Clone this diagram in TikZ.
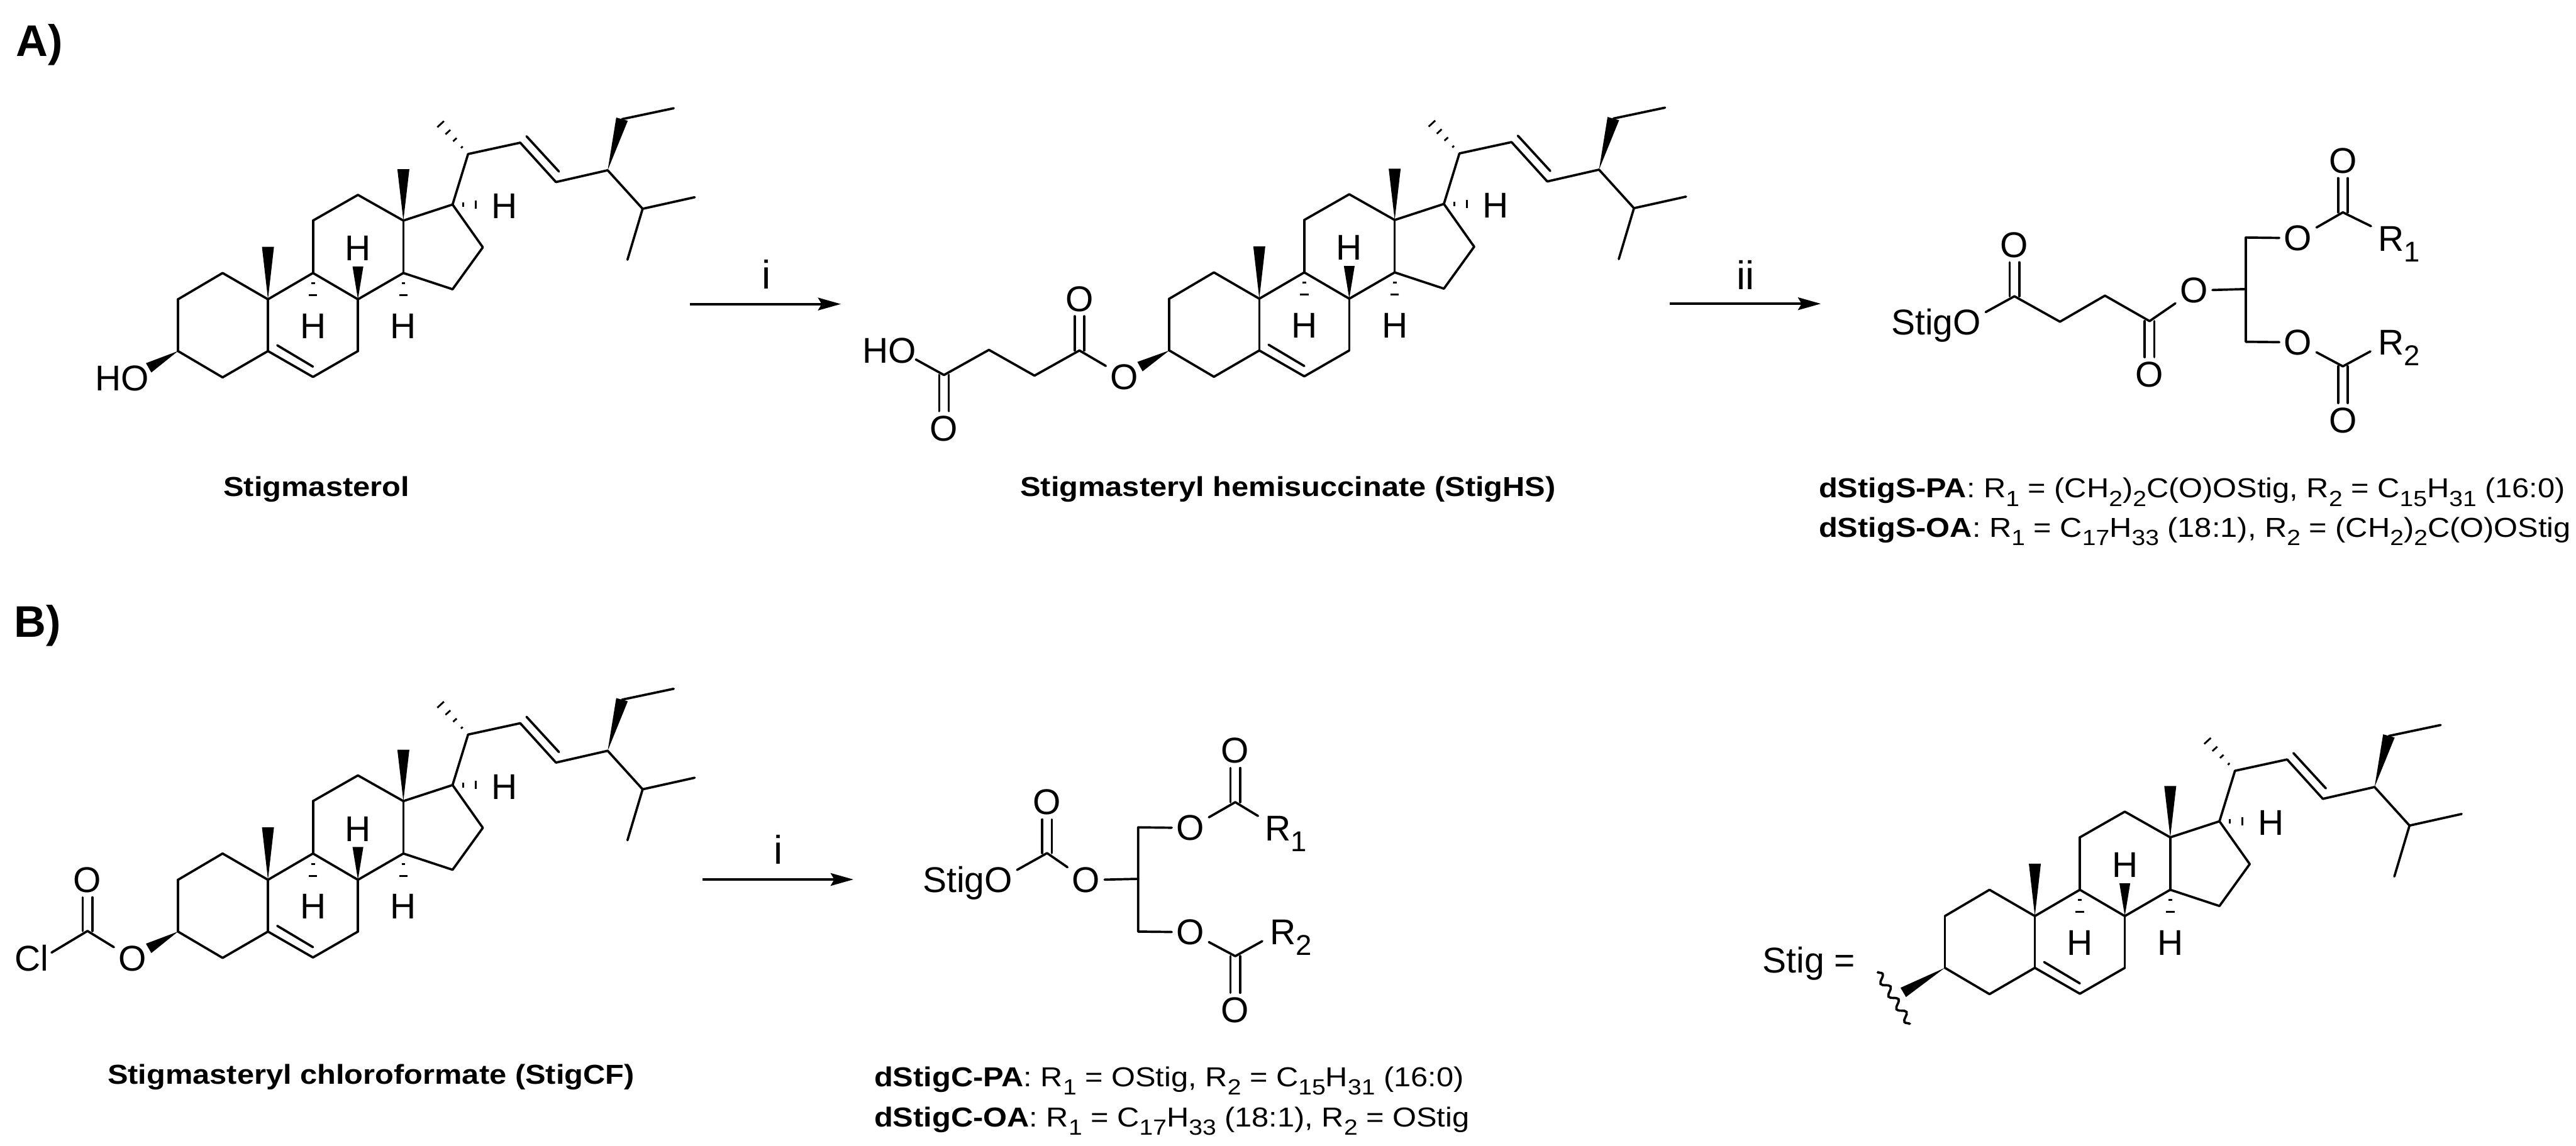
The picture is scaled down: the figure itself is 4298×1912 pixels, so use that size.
\documentclass[tikz,border=0pt]{standalone}
\usepackage{fontspec}
\usepackage{graphicx}
\setmainfont{Liberation Sans}
\usetikzlibrary{calc,arrows.meta,decorations.pathmorphing}

\newcommand{\subn}[1]{\raisebox{-.3em}{\scalebox{.8}{#1}}}
\newcommand{\widen}[1]{\scalebox{1.12}[1]{#1}}

\tikzset{
    bond/.style={line width=1.1pt, line cap=round, line join=round},
    hashline/.style={line width=.85pt},
    atomlabel/.style={font=\fontsize{17}{20}\selectfont, inner sep=.07cm},
    hlabel/.style={font=\fontsize{17}{20}\selectfont, inner sep=0pt},
    arrowlabel/.style={font=\fontsize{19}{22}\selectfont, inner sep=0pt, anchor=base},
    textlabel/.style={font=\fontsize{17}{20}\selectfont, inner sep=0pt, anchor=base west},
    captionlabel/.style={font=\fontsize{13}{16}\selectfont, inner sep=0pt, anchor=base west},
    namelabel/.style={font=\fontsize{13}{16}\selectfont\bfseries, inner sep=0pt, anchor=base},
    panellabel/.style={font=\fontsize{21}{25}\selectfont\bfseries, inner sep=0pt, anchor=base west},
    rxnarrow/.style={line width=1.2pt, -{Stealth[length=.38cm,width=.21cm,inset=.06cm]}}
}

\newcommand{\wedgebond}[3]{
    \fill ($(#2)!#3cm!90:(#1)$) -- ($(#2)!#3cm!-90:(#1)$) -- (#1) -- cycle;
}
\newcommand{\hashbond}[3]{
    \foreach \t/\w in {#3}
    \draw[hashline] ($(#1)!\t!(#2)!\w cm!90:(#2)$) -- ($(#1)!\t!(#2)!\w cm!-90:(#2)$);
}
\newcommand{\dblbond}[2]{
    \draw[bond] ($(#1)!.08cm!90:(#2)$) -- ($(#2)!.08cm!-90:(#1)$);
    \draw[bond] ($(#1)!.08cm!-90:(#2)$) -- ($(#2)!.08cm!90:(#1)$);
}

% ring system and side chain, origin at the carbon carrying the oxygen
\newcommand{\stigcore}{
    \foreach \n/\px/\py in {c3/0/0, c4/74.4/-43.9, c5/150.1/0, c6/225.2/-43.2, c7/300.2/0, c8/300.2/86.4, c9/225.2/130.3, c10/150.1/86.4, c1/74.4/130.3, c2/0/86.4, c11/225.2/217.8, c12/300.2/260.7, c13/376/217.8, c14/376/130.3, c15/458.1/103.2, c16/508.6/173.2, c17/458.1/244.6, c20/484/328.9, c22/571/347.8, c23/630.6/282.1, c24/716.9/301.8, c28/740.8/387.1, c29/827.1/405.3, c25/775.2/237.5, c26/862.1/256.8, c27/749.9/152.5, me21/426/392, me19/150.1/173.9, me18/376/303.5, h8e/300.2/141.1, h9e/225.2/73, h14e/376/73, h17e/518.4/244.6, dba/165.6/9.6, dbb/225.2/-26, dbc/581.5/358.5, dbd/635.6/299.6}
        \coordinate (\n) at (\px,\py);

    \foreach \A/\B in {c3/c4, c4/c5, c5/c6, c6/c7, c7/c8, c8/c9, c9/c10, c10/c5, c10/c1, c1/c2, c2/c3, c9/c11, c11/c12, c12/c13, c13/c14, c14/c8, c14/c15, c15/c16, c16/c17, c17/c13, c17/c20, c20/c22, c22/c23, c23/c24, c24/c25, c25/c26, c25/c27, c28/c29, dba/dbb, dbc/dbd}
        \draw[bond] (\A) -- (\B);

    \wedgebond{c10}{me19}{.1}
    \wedgebond{c13}{me18}{.1}
    \wedgebond{c8}{h8e}{.09}
    \wedgebond{c24}{c28}{.1}
    \hashbond{c20}{me21}{.18/.02, .38/.04, .58/.055, .79/.075, 1/.1}
    \hashbond{c9}{h9e}{.3/.03, .65/.07, 1/.1}
    \hashbond{c14}{h14e}{.3/.03, .65/.07, 1/.1}
    \hashbond{c17}{h17e}{.29/.04, .64/.07, 1/.1}

    \node[hlabel] (h8) at (300.2,171.4) {H};
    \node[hlabel] (h9) at (225.2,41.8) {H};
    \node[hlabel] (h14) at (376,41.8) {H};
    \node[hlabel] (h17) at (544.4,241.8) {H};
}

% the two acyl arms on the glycerol, origin at the central carbon
\newcommand{\glyarms}[2]{
    \coordinate (ch) at (0,0);
    \coordinate (chu) at (0,-86);
    \coordinate (chd) at (0,88);
    \coordinate (cu) at (162,-128);
    \coordinate (cd) at (162,129);
    \coordinate (ru) at (#1-11,-105);
    \coordinate (rd) at (#2-12,104);
    \node[atomlabel] (ou) at (87,-85) {O};
    \node[atomlabel] (od) at (87,89) {O};
    \node[atomlabel] (ocu) at (162,-214) {O};
    \node[atomlabel] (ocd) at (162,219) {O};
    \node[textlabel] (rup) at (#1,-63.5) {R\subn{1}};
    \node[textlabel] (rdn) at (#2,110) {R\subn{2}};
    \draw[bond] (ou) -- (chu) -- (chd) -- (od);
    \draw[bond] (ou) -- (cu) -- (ru);
    \draw[bond] (od) -- (cd) -- (rd);
    \dblbond{cu}{ocu.south}
    \dblbond{cd}{ocd.north}
}

\begin{document}
\begin{tikzpicture}[x=.01cm, y=-.01cm]

    \useasboundingbox (0,0) rectangle (4298,1912);

    \node[panellabel] (panelA) at (26,94) {A)};
    \node[panellabel] (panelB) at (23,1063) {B)};

    % stigmasterol
    \begin{scope}[shift={(297,586)}, y=.01cm, name prefix=st-]
        \stigcore
        \coordinate (o3) at (-49,-28);
        \wedgebond{c3}{o3}{.09}
    \end{scope}
    \node[textlabel] (st-oh) at (158,652) {HO};
    \node[namelabel] (st-name) at (528,828) {\widen{Stigmasterol}};

    \coordinate (arrA1) at (1151,507.5);
    \coordinate (arrA2) at (1403,507.5);
    \draw[rxnarrow] (arrA1) -- (arrA2);
    \node[arrowlabel] (arrA-lab) at (1279,482) {i};

    % hemisuccinate
    \begin{scope}[shift={(1951,585)}, y=.01cm, name prefix=hs-]
        \stigcore
        \coordinate (o3) at (-49,-27);
        \wedgebond{c3}{o3}{.09}
    \end{scope}
    \node[atomlabel] (hs-o) at (1876,629) {O};
    \coordinate (hs-c1) at (1801,585);
    \coordinate (hs-c2) at (1726,627);
    \coordinate (hs-c3) at (1650,584);
    \coordinate (hs-c4) at (1575,626);
    \coordinate (hs-oh) at (1528,600);
    \node[atomlabel] (hs-o1) at (1801,499) {O};
    \node[atomlabel] (hs-o2) at (1575,715) {O};
    \node[textlabel] (hs-holab) at (1438,606) {HO};
    \draw[bond] (hs-o) -- (hs-c1) -- (hs-c2) -- (hs-c3) -- (hs-c4) -- (hs-oh);
    \dblbond{hs-c1}{hs-o1.south}
    \dblbond{hs-c4}{hs-o2.north}
    \node[namelabel] (hs-name) at (2149,828) {\widen{Stigmasteryl hemisuccinate (StigHS)}};

    \coordinate (arrB1) at (2786,507);
    \coordinate (arrB2) at (3038,507);
    \draw[rxnarrow] (arrB1) -- (arrB2);
    \node[arrowlabel] (arrB-lab) at (2912,483) {ii};

    % succinate product
    \begin{scope}[shift={(3747,482.5)}, name prefix=ps-]
        \glyarms{220}{220}
    \end{scope}
    \node[textlabel, anchor=base east] (ps-stig) at (3306,559) {StigO};
    \coordinate (ps-so) at (3313,521);
    \coordinate (ps-c1) at (3361,494.5);
    \coordinate (ps-c2) at (3437,537);
    \coordinate (ps-c3) at (3512,493.5);
    \coordinate (ps-c4) at (3586.5,536);
    \node[atomlabel] (ps-o1) at (3361,409) {O};
    \node[atomlabel] (ps-o2) at (3586.5,625) {O};
    \node[atomlabel] (ps-o3) at (3660.5,485) {O};
    \draw[bond] (ps-so) -- (ps-c1) -- (ps-c2) -- (ps-c3) -- (ps-c4) -- (ps-o3) -- (ps-ch);
    \dblbond{ps-c1}{ps-o1.south}
    \dblbond{ps-c4}{ps-o2.north}
    \node[captionlabel] (ps-pa) at (3034,831) {\widen{\textbf{dStigS-PA}: R\subn{1} = (CH\subn{2})\subn{2}C(O)OStig, R\subn{2} = C\subn{15}H\subn{31} (16:0)}};
    \node[captionlabel] (ps-oa) at (3034,897) {\widen{\textbf{dStigS-OA}: R\subn{1} = C\subn{17}H\subn{33} (18:1), R\subn{2} = (CH\subn{2})\subn{2}C(O)OStig}};

    % chloroformate
    \begin{scope}[shift={(297,1555)}, y=.01cm, name prefix=cf-]
        \stigcore
        \coordinate (o3) at (-49,-28);
        \wedgebond{c3}{o3}{.09}
    \end{scope}
    \node[atomlabel] (cf-o) at (221,1600) {O};
    \coordinate (cf-c) at (146,1554);
    \coordinate (cf-clend) at (86,1590);
    \node[atomlabel] (cf-o1) at (146,1469) {O};
    \node[textlabel] (cf-cl) at (24,1621) {Cl};
    \draw[bond] (cf-clend) -- (cf-c) -- (cf-o);
    \dblbond{cf-c}{cf-o1.south}
    \node[namelabel] (cf-name) at (619,1810) {\widen{Stigmasteryl chloroformate (StigCF)}};

    \coordinate (arrC1) at (1172,1468);
    \coordinate (arrC2) at (1424,1468);
    \draw[rxnarrow] (arrC1) -- (arrC2);
    \node[arrowlabel] (arrC-lab) at (1299,1442) {i};

    % carbonate product
    \begin{scope}[shift={(1899,1467)}, name prefix=pc-]
        \glyarms{211}{219}
    \end{scope}
    \node[textlabel, anchor=base east] (pc-stig) at (1690,1490) {StigO};
    \coordinate (pc-so) at (1697,1452);
    \coordinate (pc-c) at (1747,1424);
    \node[atomlabel] (pc-o1) at (1747,1339) {O};
    \node[atomlabel] (pc-o2) at (1812,1469) {O};
    \draw[bond] (pc-so) -- (pc-c) -- (pc-o2) -- (pc-ch);
    \dblbond{pc-c}{pc-o1.south}
    \node[captionlabel] (pc-pa) at (1458,1814) {\widen{\textbf{dStigC-PA}: R\subn{1} = OStig, R\subn{2} = C\subn{15}H\subn{31} (16:0)}};
    \node[captionlabel] (pc-oa) at (1458,1881) {\widen{\textbf{dStigC-OA}: R\subn{1} = C\subn{17}H\subn{33} (18:1), R\subn{2} = OStig}};

    % stig fragment
    \node[textlabel] (sg-lab) at (2940,1624) {Stig =};
    \begin{scope}[shift={(3245,1615.5)}, y=.01cm, name prefix=sg-]
        \stigcore
        \coordinate (o3) at (-69.5,-41);
        \wedgebond{c3}{o3}{.09}
    \end{scope}
    \coordinate (sg-w1) at (3132,1622);
    \coordinate (sg-w2) at (3187,1710);
    \draw[line width=1.1pt, decorate, decoration={snake, amplitude=.06cm, segment length=.25cm}] (sg-w1) -- (sg-w2);

\end{tikzpicture}
\end{document}
